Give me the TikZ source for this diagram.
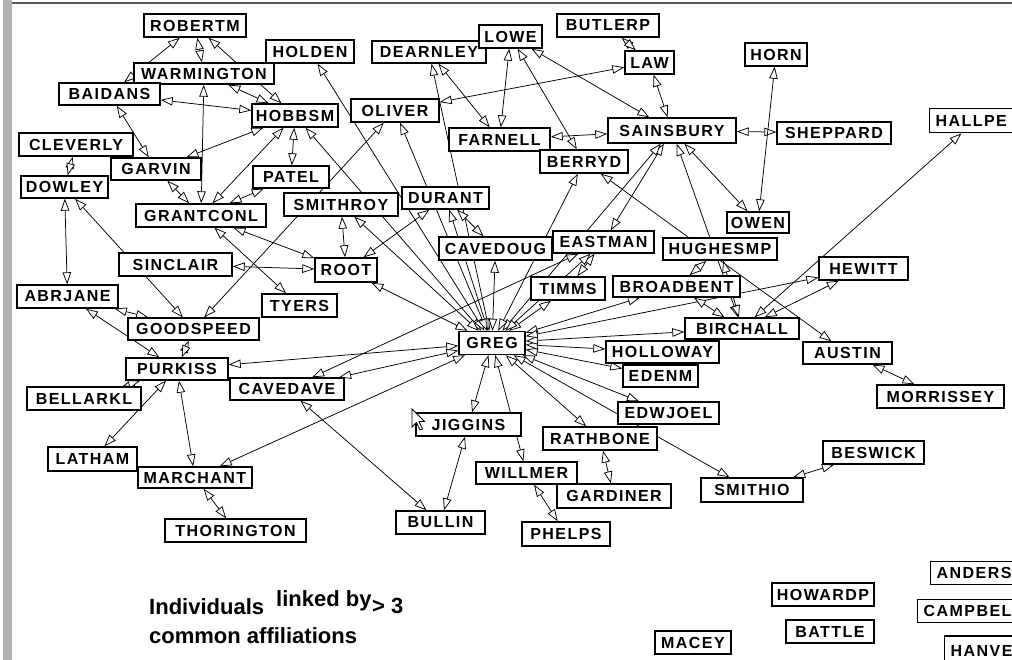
\documentclass[tikz,border=0pt]{standalone}
\usepackage{fontspec}
\newfontfamily\nf{Liberation Sans}[LetterSpace=9]
\newfontfamily\cf{Liberation Sans}
\usetikzlibrary{arrows.meta}
\pgfdeclarelayer{bg}
\pgfsetlayers{bg,main}
\newcommand\mynode[6]{\node[namebox,minimum width=#4pt,minimum height=#5pt] (#1) at (#2,#3) {#6};}
\begin{document}
\begin{tikzpicture}[x=1pt,y=-1pt,
  namebox/.style={draw,line width=1.4pt,fill=white,inner sep=0pt,font=\nf\bfseries\fontsize{16}{17}\selectfont},
  cutbox/.style={namebox,anchor=north west,align=left,inner xsep=6pt},
  lk/.style={line width=0.75pt,{Triangle[length=12pt,width=8.5pt,fill=white]}-{Triangle[length=12pt,width=8.5pt,fill=white]}},
  captxt/.style={anchor=base west,inner sep=0pt,font=\cf\bfseries\fontsize{22}{23}\selectfont}]
\useasboundingbox (0,0) rectangle (1012,660);
% frame
\fill[gray!60] (3,0) rectangle (12,660);
\draw[line width=2pt,gray!70!black] (12,3) -- (1012,3);
% nodes
\mynode{ROBERTM}{195}{25.5}{102}{23}{ROBERTM}
\mynode{WARMINGTON}{204}{73.5}{140}{21}{WARMINGTON}
\mynode{BAIDANS}{109.5}{94}{101}{22}{BAIDANS}
\mynode{HOLDEN}{310}{51.5}{88}{23}{HOLDEN}
\mynode{DEARNLEY}{429}{52}{114}{22}{DEARNLEY}
\mynode{LOWE}{510.5}{36.5}{63}{23}{LOWE}
\mynode{BUTLERP}{608}{25.5}{102}{23}{BUTLERP}
\mynode{LAW}{649.5}{62.5}{49}{23}{LAW}
\mynode{HORN}{776}{54.5}{62}{23}{HORN}
\mynode{SHEPPARD}{834}{133}{114}{22}{SHEPPARD}
\mynode{OLIVER}{395}{110.5}{88}{23}{OLIVER}
\mynode{HOBBSM}{295}{115.5}{86}{23}{HOBBSM}
\mynode{FARNELL}{499.5}{139.5}{101}{23}{FARNELL}
\mynode{SAINSBURY}{672}{130.5}{128}{25}{SAINSBURY}
\mynode{BERRYD}{584}{161.5}{88}{23}{BERRYD}
\mynode{CLEVERLY}{76}{144.5}{114}{23}{CLEVERLY}
\mynode{GARVIN}{156}{169}{90}{22}{GARVIN}
\mynode{DOWLEY}{64.5}{187}{87}{22}{DOWLEY}
\mynode{PATEL}{291}{177}{76}{22}{PATEL}
\mynode{GRANTCONL}{201}{215.5}{130}{23}{GRANTCONL}
\mynode{SMITHROY}{341}{204.5}{114}{23}{SMITHROY}
\mynode{DURANT}{445.5}{198}{87}{22}{DURANT}
\mynode{OWEN}{758}{222.5}{62}{21}{OWEN}
\mynode{CAVEDOUG}{495.5}{248.5}{113}{23}{CAVEDOUG}
\mynode{EASTMAN}{603.5}{242}{101}{22}{EASTMAN}
\mynode{HUGHESMP}{720}{249}{114}{22}{HUGHESMP}
\mynode{SINCLAIR}{175.5}{264.5}{113}{23}{SINCLAIR}
\mynode{ROOT}{346}{270}{62}{24}{ROOT}
\mynode{TYERS}{299.5}{305.5}{75}{23}{TYERS}
\mynode{TIMMS}{568}{288.5}{74}{23}{TIMMS}
\mynode{BROADBENT}{676.5}{286.5}{127}{21}{BROADBENT}
\mynode{HEWITT}{863.5}{268.5}{89}{23}{HEWITT}
\mynode{ABRJANE}{67.5}{296.5}{101}{23}{ABRJANE}
\mynode{GOODSPEED}{193.5}{329}{131}{22}{GOODSPEED}
\mynode{BIRCHALL}{742}{328.5}{114}{21}{BIRCHALL}
\mynode{GREG}{492}{343}{66}{23}{GREG}
\mynode{HOLLOWAY}{662.5}{352}{113}{22}{HOLLOWAY}
\mynode{AUSTIN}{847.5}{353}{89}{22}{AUSTIN}
\mynode{PURKISS}{177}{369}{102}{22}{PURKISS}
\mynode{CAVEDAVE}{287}{389}{114}{22}{CAVEDAVE}
\mynode{EDENM}{660.5}{376}{75}{22}{EDENM}
\mynode{BELLARKL}{84}{398.5}{114}{23}{BELLARKL}
\mynode{MORRISSEY}{940.5}{396.5}{127}{23}{MORRISSEY}
\mynode{EDWJOEL}{668.5}{413}{101}{22}{EDWJOEL}
\mynode{JIGGINS}{468.5}{424.5}{105}{23}{JIGGINS}
\mynode{RATHBONE}{600}{438.5}{114}{23}{RATHBONE}
\mynode{LATHAM}{92.5}{459}{89}{24}{LATHAM}
\mynode{BESWICK}{873.5}{452.5}{101}{23}{BESWICK}
\mynode{WILLMER}{526.5}{473}{101}{22}{WILLMER}
\mynode{MARCHANT}{195}{477.5}{114}{21}{MARCHANT}
\mynode{SMITHIO}{752}{490}{102}{24}{SMITHIO}
\mynode{GARDINER}{614}{496}{114}{24}{GARDINER}
\mynode{BULLIN}{440.5}{522.5}{89}{23}{BULLIN}
\mynode{THORINGTON}{235.5}{530.5}{141}{23}{THORINGTON}
\mynode{PHELPS}{566}{534}{88}{24}{PHELPS}
\mynode{HOWARDP}{823}{594.5}{102}{23}{HOWARDP}
\mynode{BATTLE}{830}{631.5}{88}{23}{BATTLE}
\mynode{MACEY}{693}{642.5}{76}{23}{MACEY}
\node[cutbox,minimum height=24pt,text width=80pt] (HALLPE) at (929,108) {HALLPE};
\node[cutbox,minimum height=23pt,text width=80pt] (ANDERS) at (930,561) {ANDERS};
\node[cutbox,minimum height=23pt,text width=90pt] (CAMPBEL) at (917,599) {CAMPBEL};
\node[cutbox,minimum height=30pt,text width=80pt,anchor=west] (HANVE) at (944,651) {HANVE};
% mouse pointer
\draw[fill=white,line width=0.8pt,shift={(412,409)}] (0,0) -- (0,18) -- (4.5,13.5) -- (8,21) -- (10.5,20) -- (7,12.5) -- (12.5,12.5) -- cycle;
% caption
\node[captxt] (capA) at (149,614) {Individuals};
\node[captxt] (capB) at (276,606) {linked by};
\node[captxt] (capC) at (372,613) {> 3};
\node[captxt] (capD) at (149,643) {common affiliations};
% edges
\begin{pgfonlayer}{bg}
\foreach \a/\b in {ROBERTM/BAIDANS,ROBERTM/WARMINGTON,ROBERTM/HOBBSM,WARMINGTON/HOBBSM,
  BAIDANS/HOBBSM,WARMINGTON/GRANTCONL,BAIDANS/GARVIN,CLEVERLY/DOWLEY,HOBBSM/GARVIN,
  GARVIN/GRANTCONL,HOBBSM/GRANTCONL,HOBBSM/PATEL,PATEL/GRANTCONL,HOBBSM/GREG,HOLDEN/GREG,
  DEARNLEY/FARNELL,DEARNLEY/GREG,LOWE/FARNELL,LAW/OLIVER,LOWE/BERRYD,LOWE/SAINSBURY,
  LAW/SAINSBURY,BUTLERP/LAW,FARNELL/SAINSBURY,SAINSBURY/SHEPPARD,HORN/OWEN,SAINSBURY/OWEN,
  SAINSBURY/EASTMAN,GREG/SAINSBURY,SAINSBURY/BIRCHALL,BERRYD/GREG,BERRYD/AUSTIN,
  GREG/PURKISS,GREG/CAVEDAVE,CAVEDAVE/EASTMAN,MARCHANT/GREG,CAVEDAVE/BULLIN,JIGGINS/BULLIN,
  JIGGINS/GREG,GREG/WILLMER,WILLMER/PHELPS,RATHBONE/GARDINER,GREG/SMITHIO,SMITHIO/BESWICK,
  GREG/RATHBONE,GREG/EDWJOEL,GREG/EDENM,GREG/HOLLOWAY,GREG/BIRCHALL,GREG/BROADBENT,
  GREG/HEWITT,BIRCHALL/HEWITT,BIRCHALL/HALLPE,AUSTIN/MORRISSEY,HUGHESMP/BROADBENT,
  HUGHESMP/BIRCHALL,BROADBENT/BIRCHALL,TIMMS/GREG,TIMMS/EASTMAN,GREG/EASTMAN,SMITHROY/GREG,
  SMITHROY/ROOT,OLIVER/GOODSPEED,DOWLEY/ABRJANE,DOWLEY/GOODSPEED,ABRJANE/GOODSPEED,
  ABRJANE/PURKISS,GOODSPEED/PURKISS,SINCLAIR/ROOT,GRANTCONL/ROOT,GRANTCONL/TYERS,ROOT/GREG,
  DURANT/GREG,DURANT/ROOT,DURANT/CAVEDOUG,OLIVER/GREG,CAVEDOUG/GREG,BELLARKL/PURKISS,
  PURKISS/LATHAM,PURKISS/MARCHANT,MARCHANT/THORINGTON}
  \draw[lk] (\a) -- (\b);
\end{pgfonlayer}
\end{tikzpicture}
\end{document}
